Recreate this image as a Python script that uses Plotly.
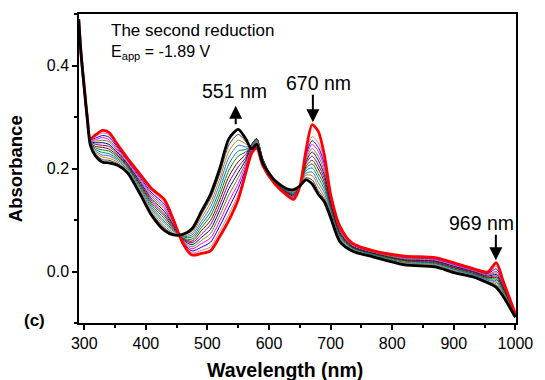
import plotly.graph_objects as go

# Wavelength grid (nm)
wavelength = [291, 295, 300, 305, 310, 318, 330, 340, 355, 370, 390, 410, 430, 445, 460,
              475, 490, 505, 520, 535, 550, 562, 572, 580, 590, 610, 630, 640, 650, 660,
              670, 680, 690, 700, 715, 735, 770, 820, 870, 900, 930, 955, 969, 980, 1000]

# Initial spectrum (red)
red_start = [0.490, 0.420, 0.360, 0.300, 0.258, 0.265, 0.274, 0.270, 0.245, 0.220, 0.190, 0.160, 0.140, 0.100, 0.055,
             0.032, 0.035, 0.040, 0.068, 0.100, 0.140, 0.190, 0.230, 0.240, 0.205, 0.169, 0.147, 0.140, 0.165, 0.235,
             0.285, 0.272, 0.225, 0.150, 0.088, 0.055, 0.040, 0.030, 0.027, 0.017, 0.006, -0.001, 0.017, -0.018, -0.082]

# Final spectrum (black)
black_end = [0.490, 0.420, 0.355, 0.295, 0.245, 0.225, 0.212, 0.211, 0.206, 0.192, 0.152, 0.108, 0.080, 0.071, 0.072,
             0.083, 0.116, 0.150, 0.200, 0.258, 0.276, 0.258, 0.238, 0.247, 0.210, 0.176, 0.160, 0.159, 0.166, 0.178,
             0.170, 0.150, 0.135, 0.105, 0.058, 0.040, 0.028, 0.013, 0.009, -0.002, -0.010, -0.022, -0.031, -0.048, -0.089]

# Intermediate spectra (thin lines)
s01 = [0.490, 0.420, 0.360, 0.300, 0.257, 0.262, 0.269, 0.265, 0.242, 0.218, 0.187, 0.156, 0.135, 0.098, 0.056,
       0.036, 0.041, 0.048, 0.078, 0.112, 0.150, 0.195, 0.236, 0.248, 0.208, 0.170, 0.148, 0.141, 0.165, 0.231,
       0.262, 0.250, 0.215, 0.146, 0.086, 0.054, 0.039, 0.029, 0.026, 0.016, 0.005, -0.003, 0.010, -0.021, -0.083]
s02 = [0.490, 0.420, 0.359, 0.299, 0.256, 0.259, 0.264, 0.261, 0.239, 0.216, 0.184, 0.152, 0.131, 0.096, 0.058,
       0.040, 0.047, 0.057, 0.088, 0.124, 0.161, 0.200, 0.240, 0.252, 0.212, 0.170, 0.149, 0.143, 0.165, 0.226,
       0.254, 0.241, 0.208, 0.143, 0.083, 0.053, 0.038, 0.027, 0.024, 0.014, 0.004, -0.004, 0.005, -0.023, -0.083]
s03 = [0.490, 0.420, 0.359, 0.299, 0.255, 0.256, 0.260, 0.256, 0.236, 0.214, 0.181, 0.148, 0.126, 0.093, 0.059,
       0.044, 0.054, 0.065, 0.098, 0.136, 0.171, 0.206, 0.243, 0.255, 0.215, 0.171, 0.150, 0.144, 0.165, 0.222,
       0.247, 0.233, 0.201, 0.139, 0.081, 0.052, 0.037, 0.026, 0.023, 0.013, 0.002, -0.006, 0.000, -0.025, -0.084]
s04 = [0.490, 0.420, 0.358, 0.298, 0.254, 0.253, 0.255, 0.252, 0.233, 0.211, 0.178, 0.144, 0.122, 0.091, 0.060,
       0.048, 0.060, 0.074, 0.109, 0.149, 0.182, 0.211, 0.245, 0.257, 0.217, 0.171, 0.151, 0.146, 0.165, 0.217,
       0.239, 0.224, 0.194, 0.136, 0.079, 0.050, 0.036, 0.025, 0.021, 0.011, 0.001, -0.007, -0.003, -0.027, -0.084]
s05 = [0.490, 0.420, 0.358, 0.298, 0.253, 0.250, 0.250, 0.247, 0.230, 0.209, 0.175, 0.140, 0.117, 0.089, 0.062,
       0.052, 0.066, 0.082, 0.119, 0.161, 0.192, 0.216, 0.246, 0.258, 0.218, 0.172, 0.152, 0.147, 0.165, 0.213,
       0.232, 0.216, 0.187, 0.133, 0.076, 0.049, 0.035, 0.023, 0.020, 0.010, 0.000, -0.009, -0.006, -0.030, -0.085]
s06 = [0.490, 0.420, 0.358, 0.298, 0.252, 0.247, 0.245, 0.243, 0.227, 0.207, 0.172, 0.136, 0.112, 0.087, 0.063,
       0.056, 0.072, 0.091, 0.129, 0.173, 0.203, 0.221, 0.247, 0.258, 0.218, 0.172, 0.153, 0.149, 0.165, 0.209,
       0.224, 0.207, 0.180, 0.129, 0.074, 0.048, 0.034, 0.022, 0.019, 0.008, -0.001, -0.011, -0.009, -0.032, -0.085]
s07 = [0.490, 0.420, 0.357, 0.297, 0.251, 0.243, 0.241, 0.238, 0.224, 0.205, 0.170, 0.132, 0.108, 0.084, 0.064,
       0.059, 0.079, 0.099, 0.139, 0.185, 0.213, 0.227, 0.247, 0.258, 0.218, 0.173, 0.154, 0.150, 0.166, 0.204,
       0.216, 0.199, 0.173, 0.126, 0.072, 0.047, 0.034, 0.021, 0.017, 0.007, -0.003, -0.012, -0.012, -0.034, -0.086]
s08 = [0.490, 0.420, 0.357, 0.297, 0.250, 0.240, 0.236, 0.234, 0.221, 0.203, 0.167, 0.128, 0.103, 0.082, 0.065,
       0.063, 0.085, 0.108, 0.149, 0.197, 0.224, 0.232, 0.246, 0.257, 0.217, 0.173, 0.155, 0.152, 0.166, 0.200,
       0.209, 0.190, 0.166, 0.122, 0.069, 0.046, 0.033, 0.020, 0.016, 0.005, -0.004, -0.014, -0.015, -0.036, -0.086]
s09 = [0.490, 0.420, 0.357, 0.297, 0.249, 0.237, 0.231, 0.229, 0.218, 0.201, 0.164, 0.124, 0.098, 0.080, 0.067,
       0.067, 0.091, 0.116, 0.159, 0.209, 0.234, 0.237, 0.245, 0.256, 0.216, 0.174, 0.156, 0.153, 0.166, 0.196,
       0.201, 0.182, 0.159, 0.119, 0.067, 0.045, 0.032, 0.018, 0.015, 0.004, -0.005, -0.016, -0.018, -0.039, -0.087]
s10 = [0.490, 0.420, 0.356, 0.296, 0.248, 0.234, 0.226, 0.225, 0.215, 0.198, 0.161, 0.120, 0.094, 0.078, 0.068,
       0.071, 0.097, 0.125, 0.170, 0.222, 0.245, 0.242, 0.244, 0.254, 0.215, 0.174, 0.157, 0.155, 0.166, 0.191,
       0.193, 0.173, 0.152, 0.115, 0.065, 0.043, 0.031, 0.017, 0.013, 0.002, -0.006, -0.017, -0.021, -0.041, -0.087]
s11 = [0.490, 0.420, 0.356, 0.296, 0.247, 0.231, 0.222, 0.220, 0.212, 0.196, 0.158, 0.116, 0.089, 0.075, 0.069,
       0.075, 0.104, 0.133, 0.180, 0.234, 0.255, 0.248, 0.242, 0.252, 0.213, 0.175, 0.158, 0.156, 0.166, 0.187,
       0.186, 0.165, 0.145, 0.112, 0.063, 0.042, 0.030, 0.016, 0.012, 0.001, -0.008, -0.019, -0.024, -0.043, -0.088]
s12 = [0.490, 0.420, 0.355, 0.295, 0.246, 0.228, 0.217, 0.216, 0.209, 0.194, 0.155, 0.112, 0.085, 0.073, 0.071,
       0.079, 0.110, 0.142, 0.190, 0.246, 0.266, 0.253, 0.240, 0.250, 0.212, 0.175, 0.159, 0.158, 0.166, 0.182,
       0.178, 0.157, 0.140, 0.108, 0.060, 0.041, 0.029, 0.014, 0.010, -0.001, -0.009, -0.020, -0.027, -0.046, -0.088]

intermediates = [s01, s02, s03, s04, s05, s06, s07, s08, s09, s10, s11, s12]
mid_colors = ["#FF7070", "#0000FF", "#FF00FF", "#808000", "#000080", "#800080",
              "#800000", "#008000", "#008080", "#4169E1", "#C08000", "#404040"]

x_ticks_start = 300
annot_texts = ["551 nm", "670 nm", "969 nm"]

fig = go.Figure()
for ys, c in zip(intermediates, mid_colors):
    fig.add_trace(go.Scatter(x=wavelength, y=ys, mode="lines",
                             line=dict(color=c, width=1, shape="spline", smoothing=0.75),
                             showlegend=False, hoverinfo="skip"))
fig.add_trace(go.Scatter(x=wavelength, y=red_start, mode="lines",
                         line=dict(color="#FF0000", width=2.8, shape="spline", smoothing=0.75),
                         showlegend=False))
fig.add_trace(go.Scatter(x=wavelength, y=black_end, mode="lines",
                         line=dict(color="#000000", width=2.8, shape="spline", smoothing=0.75),
                         showlegend=False))

font_family = "Arial, Liberation Sans, sans-serif"
axis_common = dict(showline=True, linecolor="black", linewidth=1.5, mirror=True,
                   ticks="outside", ticklen=5, tickwidth=1.5, tickcolor="black",
                   showgrid=False, zeroline=False, ticklabeloverflow="allow",
                   tickfont=dict(family=font_family, size=16, color="black"))

fig.update_xaxes(range=[291.5, 1001], tick0=x_ticks_start, dtick=100,
                 minor=dict(dtick=50, tick0=300, ticks="outside", ticklen=3, tickwidth=1.5, tickcolor="black"),
                 **axis_common)
fig.update_yaxes(range=[-0.1, 0.5], tick0=0, dtick=0.2, tickformat=".1f",
                 minor=dict(dtick=0.1, tick0=0, ticks="outside", ticklen=3, tickwidth=1.5, tickcolor="black"),
                 **axis_common)

ann = []
def txt(x, y, s, size=16, bold=False, xanchor="center", angle=0):
    ann.append(dict(x=x, y=y, xref="paper", yref="paper", text=(f"<b>{s}</b>" if bold else s),
                    showarrow=False, xanchor=xanchor, yanchor="middle", textangle=angle,
                    font=dict(family=font_family, size=size, color="black")))

txt(0.069, 0.945, "The second reduction", size=17, xanchor="left")
txt(0.069, 0.875, "E<sub>app</sub> = -1.89 V", size=16, xanchor="left")
txt(0.355, 0.752, annot_texts[0], size=19.5)
txt(0.548, 0.777, annot_texts[1], size=19.5)
txt(0.921, 0.324, annot_texts[2], size=19.5)
txt(-0.1024, 0.0065, "(c)", size=17, bold=True)
txt(-0.1448, 0.5, "Absorbance", size=18.5, bold=True, angle=-90)
txt(0.471, -0.1516, "Wavelength (nm)", size=19.5, bold=True)

for (x, y, ay) in [(0.3586, 0.7032, 20), (0.5352, 0.6494, -29), (0.9539, 0.2032, -27)]:
    ann.append(dict(x=x, y=y, xref="paper", yref="paper", ax=0, ay=ay, text="",
                    showarrow=True, arrowhead=2, arrowsize=1.3, arrowwidth=2, arrowcolor="black"))

fig.update_layout(width=545, height=380, margin=dict(l=79, r=17, t=13, b=57),
                  plot_bgcolor="white", paper_bgcolor="white", annotations=ann,
                  showlegend=False)
fig.write_html("out.html")
